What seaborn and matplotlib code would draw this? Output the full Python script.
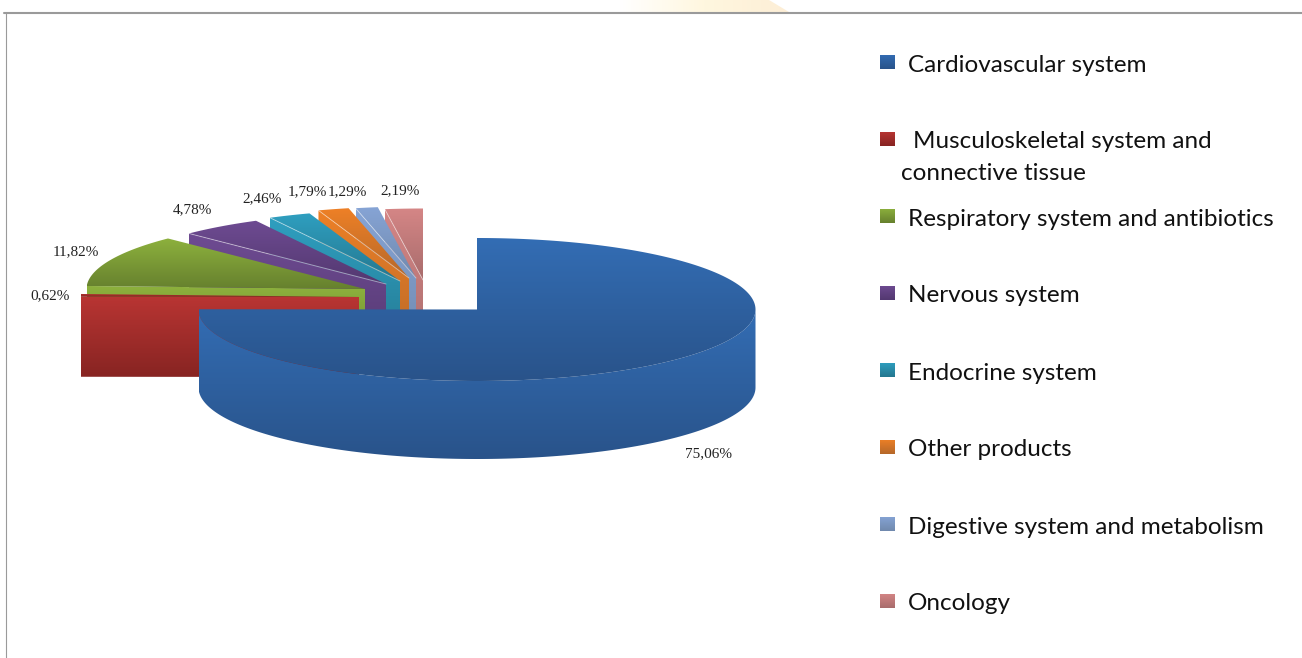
import numpy as np
import matplotlib
matplotlib.use('Agg')
import matplotlib.pyplot as plt
from matplotlib.patches import Polygon
import seaborn as sns

# data
categories = ['Cardiovascular system', 'Musculoskeletal system and\nconnective tissue',
              'Respiratory system and antibiotics', 'Nervous system', 'Endocrine system',
              'Other products', 'Digestive system and metabolism', 'Oncology']
shares = [75.06, 0.62, 11.82, 4.78, 2.46, 1.79, 1.29, 2.19]
share_labels = ['75,06%', '0,62%', '11,82%', '4,78%', '2,46%', '1,79%', '1,29%', '2,19%']

# colours: light end and dark end of each slice gradient
light = ['#336db4', '#b93533', '#8db13d', '#6e4b92', '#2f9fc0', '#ee8026', '#86a4d5', '#d58686']
dark = ['#29538a', '#872422', '#66802e', '#533870', '#24778f', '#b5682a', '#7089ad', '#a86c6c']

# layout in pixels of the 1302x658 picture
RX, RY = 278.5, 71.5
DEPTH = 78
SMALL_DEPTH = 80
apex = [(477, 309.5), (359, 297), (365, 289), (386, 284), (400, 281), (409, 278), (416, 278), (423, 280)]
label_pos = [(708, 454), (50, 296), (76, 252), (192, 210), (262, 199), (307.5, 192), (347, 192), (400, 191)]
legend_y = [65, 142, 219, 296, 373, 450, 527, 604]

sns.set_theme(style='white')
plt.rcParams['font.family'] = ['Lato', 'DejaVu Sans']

fig = plt.figure(figsize=(13.02, 6.58), dpi=100)
ax = fig.add_axes([0, 0, 1, 1])
cmaps = [sns.blend_palette([a, b], as_cmap=True) for a, b in zip(light, dark)]


def grad_fill(pts, cmap, z, horizontal=False):
    pts = np.asarray(pts)
    x0, y0 = pts.min(axis=0)
    x1, y1 = pts.max(axis=0)
    ramp = np.linspace(0, 1, 256)[:, None]
    if horizontal:
        ramp = ramp.T
    im = ax.imshow(ramp, extent=(x0, x1, y1, y0), cmap=cmap, aspect='auto', zorder=z,
                   interpolation='bilinear', vmin=0, vmax=1)
    im.set_clip_path(Polygon(pts, closed=True, transform=ax.transData))


def rim(cx, cy, a0, a1, n=200):
    a = np.radians(np.linspace(a0, a1, n))
    return np.column_stack([cx + RX * np.cos(a), cy - RY * np.sin(a)])


# slices run clockwise from 12 o'clock, so angles go 90, 90 - 360 * share
ends = 90 - np.cumsum(shares) * 3.6 / (sum(shares) / 100)
starts = np.r_[90, ends[:-1]]

# the small slices, drawn back to front: pink first, red last
z = 2
for i in range(len(shares) - 1, 0, -1):
    cx, cy = apex[i]
    top = np.vstack([[apex[i]], rim(cx, cy, starts[i], ends[i])])
    # the edge nearest 9 o'clock is the one whose wall faces us
    far = rim(cx, cy, starts[i], starts[i], 1)[0]
    side = [apex[i], far, (far[0], far[1] + SMALL_DEPTH), (cx, cy + SMALL_DEPTH)]
    grad_fill(side, cmaps[i], z)
    grad_fill(top, cmaps[i], z + 1)
    if i > 2:
        ax.plot([cx, far[0]], [cy, far[1]], color='white', alpha=0.45, lw=0.7, zorder=z + 1)
    z += 2

# the big slice: front wall, then top face
cx, cy = apex[0]
wall = np.vstack([rim(cx, cy, 180, 360), rim(cx, cy + DEPTH, 360, 180)])
grad_fill(wall, cmaps[0], z)
grad_fill(np.vstack([[apex[0]], rim(cx, cy, starts[0], ends[0], 500)]), cmaps[0], z + 1)
z += 2

# percentage labels
for i, (lab, (x, y)) in enumerate(zip(share_labels, label_pos)):
    ax.text(x, y, lab, ha='center', va='center', family='Liberation Serif', fontsize=11,
            color='#222222', zorder=z + i)

# legend, hand placed because the spacing ignores the two line entry
for i, (name, y) in enumerate(zip(categories, legend_y)):
    grad_fill([(880, y - 10), (895, y - 10), (895, y + 4.5), (880, y + 4.5)], cmaps[i], 30)
    lines = name.split('\n')
    ax.text(913 if len(lines) > 1 else 908, y, lines[0], ha='left', va='center',
            fontsize=17.5, color='#111111', zorder=31)
    if len(lines) > 1:
        ax.text(901, y + 31, lines[1], ha='left', va='center', fontsize=17.5,
                color='#111111', zorder=31)

# frame and the faint shape peeking in above it
glow = sns.blend_palette(['#ffffff', '#fff7df', '#fdeed6'], as_cmap=True)
grad_fill([(620, 0), (769, 0), (789, 12), (620, 12)], glow, 1, horizontal=True)
ax.plot([4, 1302], [13, 13], color='#9a9a9a', lw=1.5, zorder=40)
ax.plot([5.5, 5.5], [13, 658], color='#9a9a9a', lw=0.8, zorder=40)

ax.set_xlim(0, 1302)
ax.set_ylim(658, 0)
ax.axis('off')
fig.savefig('out.png', dpi=100, facecolor='white')
